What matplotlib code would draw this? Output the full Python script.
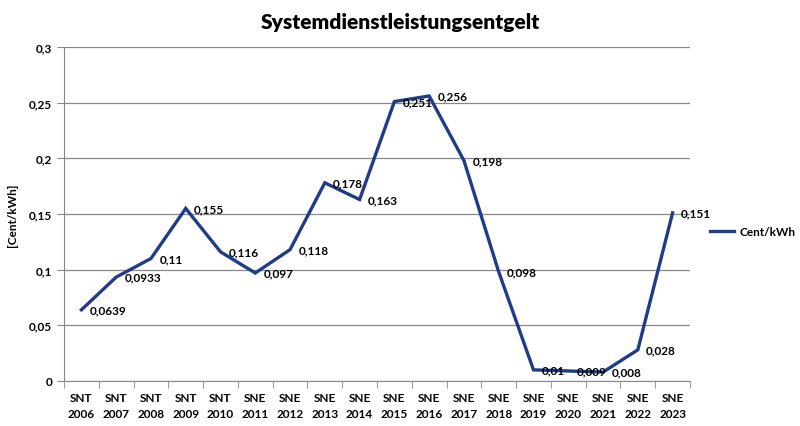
import matplotlib
matplotlib.use("Agg")
import matplotlib.pyplot as plt
import numpy as np

categories = ["SNT\n2006", "SNT\n2007", "SNT\n2008", "SNT\n2009", "SNT\n2010",
              "SNE\n2011", "SNE\n2012", "SNE\n2013", "SNE\n2014", "SNE\n2015",
              "SNE\n2016", "SNE\n2017", "SNE\n2018", "SNE\n2019", "SNE\n2020",
              "SNE\n2021", "SNE\n2022", "SNE\n2023"]
values = [0.0639, 0.0933, 0.11, 0.155, 0.116, 0.097, 0.118, 0.178, 0.163,
          0.251, 0.256, 0.198, 0.098, 0.01, 0.009, 0.008, 0.028, 0.151]
labels = ["0,0639", "0,0933", "0,11", "0,155", "0,116", "0,097", "0,118", "0,178",
          "0,163", "0,251", "0,256", "0,198", "0,098", "0,01", "0,009", "0,008",
          "0,028", "0,151"]
yticks = [0, 0.05, 0.1, 0.15, 0.2, 0.25, 0.3]
yticklabels = ["0", "0,05", "0,1", "0,15", "0,2", "0,25", "0,3"]

plt.rcParams['font.family'] = ['Lato', 'DejaVu Sans']

fig = plt.figure(figsize=(8, 4.27), dpi=100)
ax = fig.add_axes([0.08, 0.1054, 0.7825, 0.7822])

x = np.arange(len(values))
color = '#1f3c88'
ax.plot(x, values, color=color, lw=2.4, label='Cent/kWh', solid_joinstyle='miter')
for xi, v, lab in zip(x, values, labels):
    ax.annotate(lab, (xi, v), xytext=(6, 0), textcoords='offset points',
                ha='left', va='center', fontsize=8.5, fontweight='bold', color='black')

ax.set_xlim(-0.5, len(values) - 0.5)
ax.set_ylim(0, 0.3)
ax.set_yticks(yticks)
ax.set_yticklabels(yticklabels, fontsize=8.5, fontweight='bold')
ax.set_xticks(x)
ax.set_xticklabels(categories, fontsize=8.5, fontweight='bold', linespacing=1.5)
ax.set_xticks(np.arange(-0.5, len(values), 1), minor=True)
ax.tick_params(axis='x', which='major', length=0, pad=8)
ax.tick_params(axis='x', which='minor', length=5, color='#888888', direction='out')
ax.tick_params(axis='y', length=5, color='#888888', direction='out')
ax.grid(axis='y', color='#888888', lw=0.9)
ax.set_axisbelow(True)
for s in ['top', 'right']:
    ax.spines[s].set_visible(False)
for s in ['left', 'bottom']:
    ax.spines[s].set_color('#888888')
ax.set_ylabel('[Cent/kWh]', fontsize=8.5, fontweight='bold', labelpad=8)

fig.suptitle('Systemdienstleistungsentgelt', x=0.5, y=0.97, fontsize=15, fontweight='heavy')
fig.legend(loc='center left', bbox_to_anchor=(0.888, 0.455), frameon=False,
           prop={'size': 8.5, 'weight': 'bold'}, handlelength=2.0,
           handletextpad=0.5, borderpad=0, borderaxespad=0)

fig.savefig('out.png', dpi=100, facecolor='white')
